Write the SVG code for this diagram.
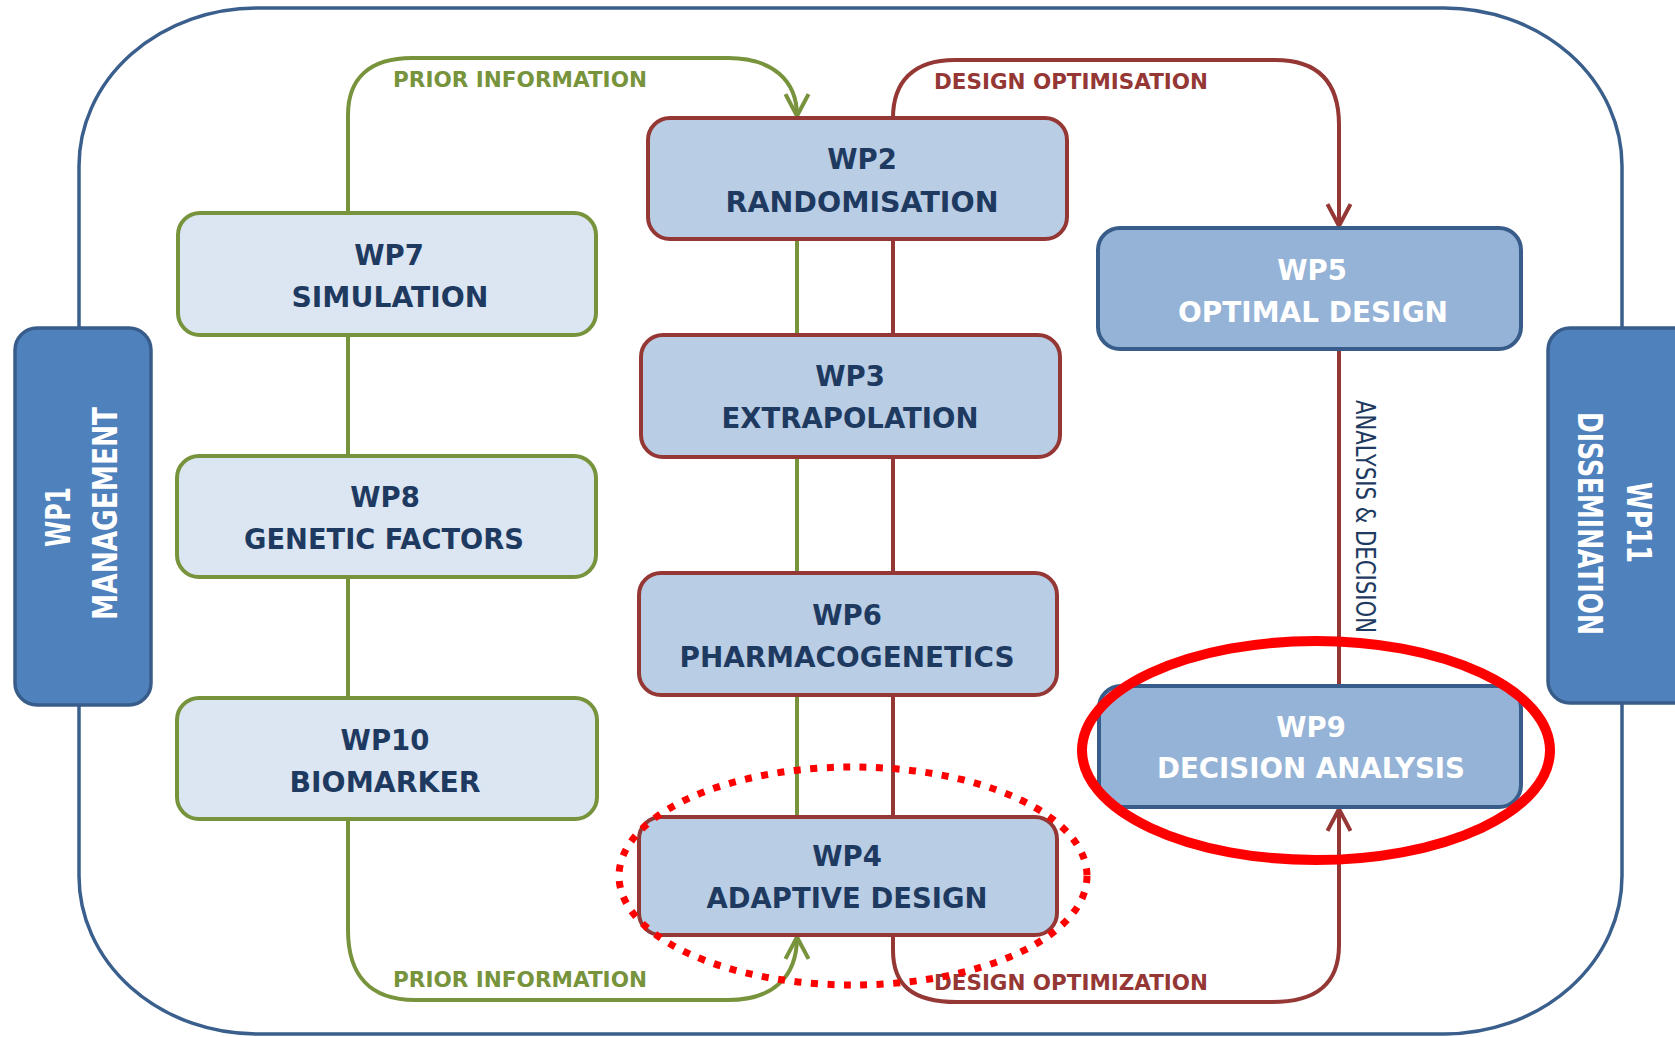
<svg xmlns="http://www.w3.org/2000/svg" width="1675" height="1037" viewBox="0 0 1675 1037">
<style>
  .lbl { font-family: "DejaVu Sans", Verdana, sans-serif; font-weight: bold; font-size: 27.5px; text-anchor: middle; }
  .dark { fill: #1F3A60; }
  .light { fill: #FFFFFF; }
  .green-node { fill: #DCE6F2; stroke: #77933C; stroke-width: 4; }
  .red-node { fill: #B9CDE5; stroke: #953735; stroke-width: 4; }
  .blue-node { fill: #95B3D7; stroke: #385D8A; stroke-width: 4; }
  .side-node { fill: #4F81BD; stroke: #385D8A; stroke-width: 3.5; }
  .side { font-family: "DejaVu Sans", Verdana, sans-serif; font-weight: bold; font-size: 33px; text-anchor: middle; fill: #FFFFFF; }
  .g-line { fill: none; stroke: #77933C; stroke-width: 4; }
  .r-line { fill: none; stroke: #953735; stroke-width: 4; }
  .conn-lbl { font-family: "DejaVu Sans", Verdana, sans-serif; font-weight: bold; font-size: 21px; }
</style>
<defs>
  <marker id="arrG" markerUnits="userSpaceOnUse" markerWidth="30" markerHeight="30" refX="0" refY="0" orient="auto" viewBox="-22 -13 26 26" overflow="visible">
    <path d="M-19,-10 L0,0 L-19,10" fill="none" stroke="#77933C" stroke-width="3.5"/>
  </marker>
  <marker id="arrR" markerUnits="userSpaceOnUse" markerWidth="30" markerHeight="30" refX="0" refY="0" orient="auto" viewBox="-22 -13 26 26" overflow="visible">
    <path d="M-19,-10 L0,0 L-19,10" fill="none" stroke="#953735" stroke-width="3.5"/>
  </marker>
</defs>

<rect width="1675" height="1037" fill="#FFFFFF"/>

<!-- outer frame -->
<rect id="frame" x="79" y="8" width="1543" height="1026" rx="178" ry="158" fill="none" stroke="#3A5F8C" stroke-width="3.5"/>

<g id="connectors">
  <!-- green prior information -->
  <path class="g-line" d="M348,213 V115 C348,78 370,58 412,58 H728 C772,58 797,80 797,116" marker-end="url(#arrG)"/>
  <path class="g-line" d="M348,335 V456"/>
  <path class="g-line" d="M348,577 V698"/>
  <path class="g-line" d="M348,819 V930 C348,975 370,1000 415,1000 H728 C772,1000 797,978 797,937" marker-end="url(#arrG)"/>
  <path class="g-line" d="M797,239 V335"/>
  <path class="g-line" d="M797,457 V573"/>
  <path class="g-line" d="M797,695 V817"/>
  <!-- red design optimisation -->
  <path class="r-line" d="M893,118 C893,82 913,60 955,60 H1275 C1318,60 1339,82 1339,125 V226" marker-end="url(#arrR)"/>
  <path class="r-line" d="M893,239 V335"/>
  <path class="r-line" d="M893,457 V573"/>
  <path class="r-line" d="M893,695 V817"/>
  <path class="r-line" d="M893,935 V950 C893,985 912,1002 957,1002 H1272 C1315,1002 1339,985 1339,945 V809" marker-end="url(#arrR)"/>
  <path class="r-line" d="M1339,349 V686"/>
  <!-- labels -->
  <text class="conn-lbl" x="393" y="87" fill="#77933C" textLength="254" lengthAdjust="spacingAndGlyphs">PRIOR INFORMATION</text>
  <text class="conn-lbl" x="934" y="89" fill="#953735" textLength="274" lengthAdjust="spacingAndGlyphs">DESIGN OPTIMISATION</text>
  <text class="conn-lbl" x="393" y="987" fill="#77933C" textLength="254" lengthAdjust="spacingAndGlyphs">PRIOR INFORMATION</text>
  <text class="conn-lbl" x="934" y="990" fill="#953735" textLength="274" lengthAdjust="spacingAndGlyphs">DESIGN OPTIMIZATION</text>
  <text transform="translate(1356,400) rotate(90)" x="0" y="0" font-family="DejaVu Sans, Verdana, sans-serif" font-size="26" fill="#1F3A60" textLength="233" lengthAdjust="spacingAndGlyphs">ANALYSIS &amp; DECISION</text>
</g>

<g id="wp1">
  <rect class="side-node" x="15" y="328" width="136" height="377" rx="22"/>
  <text class="side" transform="translate(70,517) rotate(-90)" textLength="60" lengthAdjust="spacingAndGlyphs">WP1</text>
  <text class="side" transform="translate(117,513.5) rotate(-90)" textLength="213" lengthAdjust="spacingAndGlyphs">MANAGEMENT</text>
</g>

<g id="wp11">
  <rect class="side-node" x="1548" y="328" width="150" height="375" rx="22"/>
  <text class="side" transform="translate(1627,522.5) rotate(90)" textLength="81" lengthAdjust="spacingAndGlyphs">WP11</text>
  <text class="side" transform="translate(1578,523.5) rotate(90)" textLength="223" lengthAdjust="spacingAndGlyphs">DISSEMINATION</text>
</g>

<g id="wp7">
  <rect class="green-node" x="178" y="213" width="418" height="122" rx="22"/>
  <text class="lbl dark" x="389" y="264.5">WP7</text>
  <text class="lbl dark" x="390" y="306.5" textLength="197" lengthAdjust="spacingAndGlyphs">SIMULATION</text>
</g>
<g id="wp8">
  <rect class="green-node" x="177" y="456" width="419" height="121" rx="22"/>
  <text class="lbl dark" x="385" y="507">WP8</text>
  <text class="lbl dark" x="384" y="549" textLength="280" lengthAdjust="spacingAndGlyphs">GENETIC FACTORS</text>
</g>
<g id="wp10">
  <rect class="green-node" x="177" y="698" width="420" height="121" rx="22"/>
  <text class="lbl dark" x="385" y="750">WP10</text>
  <text class="lbl dark" x="385" y="792" textLength="191" lengthAdjust="spacingAndGlyphs">BIOMARKER</text>
</g>

<g id="wp2">
  <rect class="red-node" x="648" y="118" width="419" height="121" rx="22"/>
  <text class="lbl dark" x="862" y="169">WP2</text>
  <text class="lbl dark" x="862" y="212" textLength="273" lengthAdjust="spacingAndGlyphs">RANDOMISATION</text>
</g>
<g id="wp3">
  <rect class="red-node" x="641" y="335" width="419" height="122" rx="22"/>
  <text class="lbl dark" x="850" y="385.5">WP3</text>
  <text class="lbl dark" x="850" y="428" textLength="257" lengthAdjust="spacingAndGlyphs">EXTRAPOLATION</text>
</g>
<g id="wp6">
  <rect class="red-node" x="639" y="573" width="418" height="122" rx="22"/>
  <text class="lbl dark" x="847" y="625">WP6</text>
  <text class="lbl dark" x="847" y="667" textLength="335" lengthAdjust="spacingAndGlyphs">PHARMACOGENETICS</text>
</g>
<g id="wp4">
  <rect class="red-node" x="639" y="817" width="418" height="118" rx="22"/>
  <text class="lbl dark" x="847" y="866">WP4</text>
  <text class="lbl dark" x="847" y="908" textLength="281" lengthAdjust="spacingAndGlyphs">ADAPTIVE DESIGN</text>
</g>

<g id="wp5">
  <rect class="blue-node" x="1098" y="228" width="423" height="121" rx="22"/>
  <text class="lbl light" x="1312" y="280">WP5</text>
  <text class="lbl light" x="1313" y="322" textLength="270" lengthAdjust="spacingAndGlyphs">OPTIMAL DESIGN</text>
</g>
<g id="wp9">
  <rect class="blue-node" x="1099" y="686" width="422" height="121" rx="22"/>
  <text class="lbl light" x="1311" y="737">WP9</text>
  <text class="lbl light" x="1311" y="778" textLength="308" lengthAdjust="spacingAndGlyphs">DECISION ANALYSIS</text>
</g>

<g id="highlights">
  <ellipse cx="853" cy="876" rx="234" ry="109" fill="none" stroke="#FF0000" stroke-width="7" stroke-dasharray="7 9.5"/>
  <ellipse cx="1316" cy="750.5" rx="234" ry="109.5" fill="none" stroke="#FF0000" stroke-width="10"/>
</g>
</svg>
